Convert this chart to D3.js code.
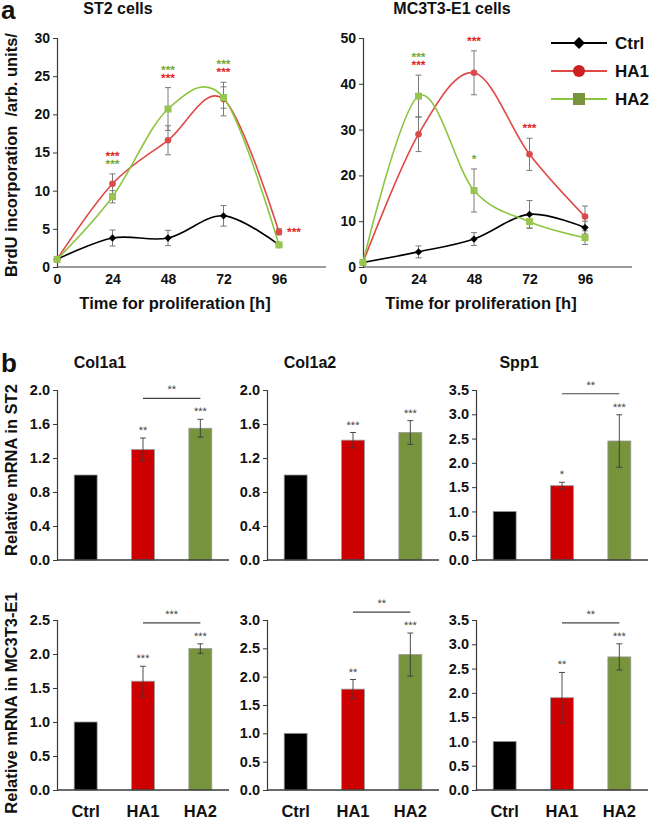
<!DOCTYPE html>
<html lang="en">
<head>
  <meta charset="UTF-8">
  <title>BrdU incorporation and relative mRNA</title>
  <script src="https://d3js.org/d3.v7.min.js"></script>
  <style>
    * { padding: 0; margin: 0; box-sizing: border-box; }
    body { background: #fff; }
    svg { display: block; font-family: Arial, "Liberation Sans", sans-serif; }
    .star { text-rendering: geometricPrecision; }
  </style>
</head>
<body>
  <div id="container"></div>
  <script>
    // ---- data: panel a (BrdU incorporation) ----
    const hours = [0, 24, 48, 72, 96];
    const seriesNames = ["Ctrl", "HA1", "HA2"];

    const st2Ctrl = [1.0, 3.8, 3.8, 6.7, 2.9];
    const st2CtrlErr = [0.1, 1.05, 1.0, 1.35, 0.2];
    const st2HA1 = [1.0, 10.9, 16.6, 22.0, 4.6];
    const st2HA1Err = [0.1, 1.3, 1.9, 2.2, 0.4];
    const st2HA2 = [1.0, 9.2, 20.7, 22.2, 2.9];
    const st2HA2Err = [0.1, 0.8, 2.8, 1.4, 0.2];

    const mcCtrl = [1.0, 3.3, 6.1, 11.5, 8.6];
    const mcCtrlErr = [0.1, 1.3, 1.4, 3.0, 1.4];
    const mcHA1 = [1.0, 29.0, 42.4, 24.6, 11.0];
    const mcHA1Err = [0.1, 3.8, 4.8, 3.5, 2.3];
    const mcHA2 = [1.0, 37.3, 16.7, 9.9, 6.4];
    const mcHA2Err = [0.1, 4.6, 4.7, 1.4, 1.5];

    // significance marks: [hour, anchor series, stacked rows bottom-up as [colour series, text]]
    const st2Stars = [
      [24, "HA1", [["HA2", "***"], ["HA1", "***"]]],
      [48, "HA2", [["HA1", "***"], ["HA2", "***"]]],
      [72, "HA1", [["HA1", "***"], ["HA2", "***"]]]
    ];
    const mcStars = [
      [24, "HA2", [["HA1", "***"], ["HA2", "***"]]],
      [48, "HA1", [["HA1", "***"]]],
      [48, "HA2", [["HA2", "*"]]],
      [72, "HA1", [["HA1", "***"]]]
    ];

    // ---- data: panel b (relative mRNA) ----
    const genes = ["Col1a1", "Col1a2", "Spp1"];
    const groups = ["Ctrl", "HA1", "HA2"];

    const st2Col1a1 = [1.0, 1.30, 1.55], st2Col1a1Err = [0, 0.135, 0.105], st2Col1a1Stars = ["", "**", "***"];
    const st2Col1a2 = [1.0, 1.41, 1.50], st2Col1a2Err = [0, 0.09, 0.14], st2Col1a2Stars = ["", "***", "***"];
    const st2Spp1 = [1.0, 1.53, 2.45], st2Spp1Err = [0, 0.07, 0.54], st2Spp1Stars = ["", "*", "***"];
    const mcCol1a1 = [1.0, 1.60, 2.08], mcCol1a1Err = [0, 0.22, 0.07], mcCol1a1Stars = ["", "***", "***"];
    const mcCol1a2 = [1.0, 1.78, 2.39], mcCol1a2Err = [0, 0.17, 0.38], mcCol1a2Stars = ["", "**", "***"];
    const mcSpp1 = [1.0, 1.90, 2.74], mcSpp1Err = [0, 0.52, 0.27], mcSpp1Stars = ["", "**", "***"];

    const st2Brackets = ["**", "", "**"];   // HA1 vs HA2
    const mcBrackets = ["***", "**", "**"];
    const st2Max = [2.0, 2.0, 3.5], st2Step = [0.4, 0.4, 0.5];
    const mcMax = [2.5, 3.0, 3.5], mcStep = [0.5, 0.5, 0.5];

    // ---- styles ----
    const lineColor = { Ctrl: "#000000", HA1: "#e04848", HA2: "#8cc540" };
    const markColor = { Ctrl: "#000000", HA1: "#d94a4a", HA2: "#96c552" };
    const starColor = { HA1: "#e02c2c", HA2: "#7aab3a" };
    const legendMark = { Ctrl: "#000000", HA1: "#cc1f1f", HA2: "#77933c" };
    const barColor = { Ctrl: "#000000", HA1: "#cc0000", HA2: "#77933c" };
    const axisColor = "#3a3a3a";

    const W = 649, H = 819;
    const svg = d3.select("#container").append("svg")
      .attr("width", W).attr("height", H).attr("viewBox", [0, 0, W, H]);

    const bold = sel => sel.attr("font-weight", "bold").attr("fill", "#111");
    const tickStyle = (sel, size) => sel.attr("font-size", size).attr("font-weight", "bold").attr("fill", "#111")
      .attr("font-family", "Arial, 'Liberation Sans', sans-serif");

    // panel letters
    svg.append("text").attr("x", 1).attr("y", 19).attr("font-size", 26).call(bold).text("a");
    svg.append("text").attr("x", 1).attr("y", 372).attr("font-size", 26).call(bold).text("b");

    function lineChart(cfg) {
      const x = d3.scaleLinear().domain([0, 96]).range([cfg.x0, cfg.x0 + 222]);
      const y = d3.scaleLinear().domain([0, cfg.max]).range([267, 38]);
      const g = svg.append("g");

      g.append("text").attr("x", cfg.titleX).attr("y", 14).attr("text-anchor", "middle")
        .attr("font-size", 16).call(bold).text(cfg.title);

      // y axis
      const ya = g.append("g").attr("transform", `translate(${cfg.x0},0)`)
        .call(d3.axisLeft(y).tickValues(d3.range(0, cfg.max + 0.1, cfg.step)).tickSize(4).tickPadding(3));
      ya.select(".domain").attr("stroke", axisColor).attr("stroke-width", 1.2);
      ya.selectAll(".tick line").attr("stroke", axisColor);
      ya.selectAll(".tick text").call(tickStyle, 14);

      // x axis
      const xa = g.append("g").attr("transform", "translate(0,267)")
        .call(d3.axisBottom(x).tickValues(hours).tickSize(0).tickPadding(7));
      xa.select(".domain").attr("d", `M${cfg.x0},0H${cfg.x0 + 269}`).attr("stroke", axisColor).attr("stroke-width", 1.2);
      xa.selectAll(".tick text").call(tickStyle, 14);

      g.append("text").attr("x", cfg.x0 + 118).attr("y", 309).attr("text-anchor", "middle")
        .attr("font-size", 16.5).call(bold).text("Time for proliferation [h]");

      const line = d3.line().x((d, i) => x(hours[i])).y(d => y(d)).curve(d3.curveCardinal.tension(0));

      // error bars
      seriesNames.forEach(s => {
        const v = cfg.data[s], e = cfg.err[s];
        const eb = g.append("g").attr("stroke", "#7a7a7a").attr("stroke-width", 1);
        hours.forEach((h, i) => {
          if (i === 0) return;
          const xx = x(h), y1 = y(v[i] + e[i]), y2 = y(v[i] - e[i]);
          eb.append("line").attr("x1", xx).attr("x2", xx).attr("y1", y1).attr("y2", y2);
          eb.append("line").attr("x1", xx - 3).attr("x2", xx + 3).attr("y1", y1).attr("y2", y1);
          eb.append("line").attr("x1", xx - 3).attr("x2", xx + 3).attr("y1", y2).attr("y2", y2);
        });
      });

      // lines and markers
      seriesNames.forEach(s => {
        g.append("path").datum(cfg.data[s]).attr("d", line).attr("fill", "none")
          .attr("stroke", lineColor[s]).attr("stroke-width", 1.6);
      });
      seriesNames.forEach(s => {
        const v = cfg.data[s];
        const m = g.append("g").attr("fill", markColor[s]);
        hours.forEach((h, i) => {
          const xx = x(h), yy = y(v[i]);
          if (s === "Ctrl") m.append("path").attr("d", d3.symbol(d3.symbolDiamond2, 34)())
            .attr("transform", `translate(${xx},${yy})`);
          else if (s === "HA1") m.append("circle").attr("cx", xx).attr("cy", yy).attr("r", 3.3);
          else m.append("rect").attr("x", xx - 3.5).attr("y", yy - 3.5).attr("width", 7).attr("height", 7);
        });
      });

      // significance (one text per stack, rows as tspans)
      cfg.stars.forEach(([h, anchor, rows]) => {
        const i = hours.indexOf(h);
        const top = y(cfg.data[anchor][i] + cfg.err[anchor][i]);
        const n = rows.length;
        const t = g.append("text").attr("class", "star").attr("text-anchor", "middle")
          .attr("font-size", 12).attr("font-weight", "bold");
        rows.slice().reverse().forEach(([col, txt], k) => {
          t.append("tspan").attr("x", x(h)).attr("y", top - 6 - (n - 1 - k) * 8)
            .attr("fill", starColor[col]).text(txt);
        });
      });
      return { x, y, g };
    }

    const a1 = lineChart({
      x0: 57, max: 30, step: 5, title: "ST2 cells", titleX: 118,
      data: { Ctrl: st2Ctrl, HA1: st2HA1, HA2: st2HA2 },
      err: { Ctrl: st2CtrlErr, HA1: st2HA1Err, HA2: st2HA2Err },
      stars: st2Stars
    });
    // star to the right of the 96 h point
    a1.g.append("text").attr("class", "star").attr("x", a1.x(96) + 8).attr("y", a1.y(st2HA1[4]) + 4)
      .attr("font-size", 12).attr("font-weight", "bold").attr("fill", starColor.HA1).text("***");

    lineChart({
      x0: 363, max: 50, step: 10, title: "MC3T3-E1 cells", titleX: 452,
      data: { Ctrl: mcCtrl, HA1: mcHA1, HA2: mcHA2 },
      err: { Ctrl: mcCtrlErr, HA1: mcHA1Err, HA2: mcHA2Err },
      stars: mcStars
    });

    svg.append("text").attr("transform", "translate(17,155) rotate(-90)").attr("text-anchor", "middle")
      .attr("font-size", 16.5).call(bold).attr("xml:space", "preserve").text("BrdU incorporation  /arb. units/");

    // legend
    const lg = svg.append("g");
    seriesNames.forEach((s, i) => {
      const yy = 43 + i * 28;
      lg.append("line").attr("x1", 551).attr("x2", 607).attr("y1", yy).attr("y2", yy)
        .attr("stroke", s === "Ctrl" ? "#000" : lineColor[s]).attr("stroke-width", 2);
      if (s === "Ctrl") lg.append("path").attr("d", d3.symbol(d3.symbolDiamond2, 90)())
        .attr("transform", `translate(579,${yy})`).attr("fill", legendMark[s]);
      else if (s === "HA1") lg.append("circle").attr("cx", 579).attr("cy", yy).attr("r", 6).attr("fill", legendMark[s]);
      else lg.append("rect").attr("x", 573).attr("y", yy - 6).attr("width", 12).attr("height", 12).attr("fill", legendMark[s]);
      lg.append("text").attr("x", 615).attr("y", yy + 6).attr("font-size", 17).call(bold).text(s);
    });

    // ---- panel b ----
    function barChart(cfg) {
      const y = d3.scaleLinear().domain([0, cfg.max]).range([cfg.base, cfg.base - 170]);
      const x = d3.scaleBand().domain(groups).range([cfg.x0, cfg.x0 + 172]).paddingInner(0.6).paddingOuter(0.3);
      const g = svg.append("g");

      const ya = g.append("g").attr("transform", `translate(${cfg.x0},0)`)
        .call(d3.axisLeft(y).tickValues(d3.range(0, cfg.max + 0.01, cfg.step)).tickSize(4).tickPadding(3)
          .tickFormat(d3.format(".1f")));
      ya.select(".domain").attr("stroke", axisColor).attr("stroke-width", 1.2);
      ya.selectAll(".tick line").attr("stroke", axisColor);
      ya.selectAll(".tick text").call(tickStyle, 14.5);

      g.selectAll("rect.bar").data(groups).join("rect").attr("class", "bar")
        .attr("x", d => x(d)).attr("width", x.bandwidth())
        .attr("y", (d, i) => y(cfg.values[i])).attr("height", (d, i) => cfg.base - y(cfg.values[i]))
        .attr("fill", d => barColor[d]).attr("stroke", "#9a9a9a").attr("stroke-width", 0.8);

      g.append("line").attr("x1", cfg.x0).attr("x2", cfg.x0 + 172).attr("y1", cfg.base).attr("y2", cfg.base)
        .attr("stroke", axisColor).attr("stroke-width", 1.4);

      groups.forEach((gr, i) => {
        const e = cfg.err[i];
        const cx = x(gr) + x.bandwidth() / 2;
        if (e > 0) {
          const y1 = y(cfg.values[i] + e), y2 = y(cfg.values[i] - e);
          const eb = g.append("g").attr("stroke", "#3a3a3a").attr("stroke-width", 0.9);
          eb.append("line").attr("x1", cx).attr("x2", cx).attr("y1", y1).attr("y2", y2);
          eb.append("line").attr("x1", cx - 3).attr("x2", cx + 3).attr("y1", y1).attr("y2", y1);
          eb.append("line").attr("x1", cx - 3).attr("x2", cx + 3).attr("y1", y2).attr("y2", y2);
        }
        if (cfg.stars[i]) g.append("text").attr("class", "star").attr("x", cx).attr("y", y(cfg.values[i] + e) - 4)
          .attr("text-anchor", "middle").attr("font-size", 11).attr("fill", "#444").text(cfg.stars[i]);
      });

      if (cfg.bracket) {
        const topV = d3.max(cfg.values.map((v, i) => v + cfg.err[i]));
        const by = y(topV) - 21;
        const xa = x("HA1") + x.bandwidth() / 2, xb = x("HA2") + x.bandwidth() / 2;
        g.append("line").attr("x1", xa).attr("x2", xb).attr("y1", by).attr("y2", by)
          .attr("stroke", "#444").attr("stroke-width", 1.2);
        g.append("text").attr("class", "star").attr("x", (xa + xb) / 2).attr("y", by - 5).attr("text-anchor", "middle")
          .attr("font-size", 11).attr("fill", "#444").text(cfg.bracket);
      }

      if (cfg.title) g.append("text").attr("x", cfg.x0 + 43).attr("y", 368).attr("text-anchor", "middle")
        .attr("font-size", 16).call(bold).text(cfg.title);

      if (cfg.labels) groups.forEach(gr => {
        g.append("text").attr("x", x(gr) + x.bandwidth() / 2).attr("y", 817).attr("text-anchor", "middle")
          .attr("font-size", 16.5).call(bold).text(gr);
      });
    }

    const axisX = [57, 267, 476];
    const st2Sets = [[st2Col1a1, st2Col1a1Err, st2Col1a1Stars], [st2Col1a2, st2Col1a2Err, st2Col1a2Stars], [st2Spp1, st2Spp1Err, st2Spp1Stars]];
    const mcSets = [[mcCol1a1, mcCol1a1Err, mcCol1a1Stars], [mcCol1a2, mcCol1a2Err, mcCol1a2Stars], [mcSpp1, mcSpp1Err, mcSpp1Stars]];

    genes.forEach((gene, k) => {
      barChart({
        x0: axisX[k], base: 560, max: st2Max[k], step: st2Step[k], title: gene,
        values: st2Sets[k][0], err: st2Sets[k][1], stars: st2Sets[k][2], bracket: st2Brackets[k]
      });
      barChart({
        x0: axisX[k], base: 790, max: mcMax[k], step: mcStep[k], labels: true,
        values: mcSets[k][0], err: mcSets[k][1], stars: mcSets[k][2], bracket: mcBrackets[k]
      });
    });

    svg.append("text").attr("transform", "translate(17,470) rotate(-90)").attr("text-anchor", "middle")
      .attr("font-size", 16.5).call(bold).text("Relative mRNA in ST2");
    svg.append("text").attr("transform", "translate(17,703) rotate(-90)").attr("text-anchor", "middle")
      .attr("font-size", 16.5).call(bold).text("Relative mRNA in MC3T3-E1");
  </script>
</body>
</html>
